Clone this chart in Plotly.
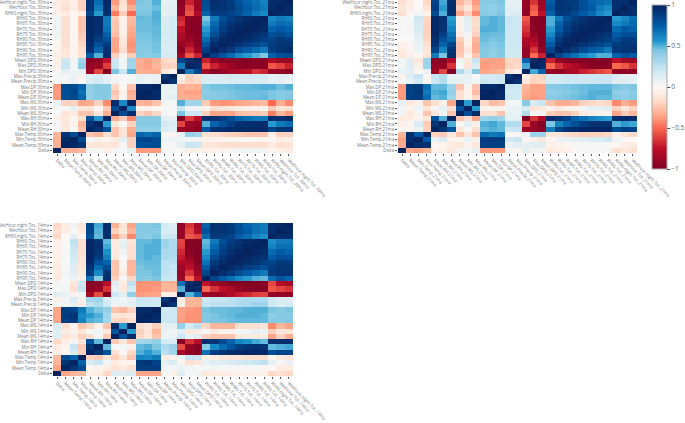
import plotly.graph_objects as go

# variable names, bottom to top on the y axis and left to right on the x axis
names = ["Delta", "Mean.Temp.{}", "Min.Temp.{}", "Max.Temp.{}", "Mean.RH.{}", "Min.RH.{}", "Max.RH.{}",
         "Mean.WS.{}", "Min.WS.{}", "Max.WS.{}", "Mean.DP.{}", "Min.DP.{}", "Max.DP.{}",
         "Mean.Precip.{}", "Max.Precip.{}", "Min.DPD.{}", "Max.DPD.{}", "Mean.DPD.{}",
         "RH95.Tot..{}", "RH90.Tot..{}", "RH85.Tot..{}", "RH80.Tot..{}", "RH75.Tot..{}", "RH70.Tot..{}",
         "RH65.Tot..{}", "RH60.Tot..{}", "RH90.night.Tot..{}", "WetHour.Tot..{}", "WetHour.night.Tot..{}"]

# upper triangles of the correlation matrices
corr_30ma = [
    [1, -.32, -.32, -.3, .04, .03, -.05, .03, .02, .08, -.38, -.38, -.38, .02, .03, .02, -.05, -.05, -.05, -.04, -.03, .03, .05, .05, .06, .06, -.03, -.06, -.08],
    [1, .97, .92, -.1, -.12, -.1, -.12, .03, -.2, .8, .8, .82, .03, .03, .1, .22, .2, -.1, -.12, -.15, -.15, -.15, -.15, -.15, -.15, -.08, -.15, -.12],
    [1, .82, .03, -.04, -.02, -.08, .1, -.2, .84, .85, .82, .08, .08, .06, .05, .05, -.03, -.03, -.03, -.02, -.02, -.02, -.02, -.02, -.02, -.07, -.05],
    [1, -.25, -.3, -.15, -.25, -.12, -.35, .72, .68, .72, -.02, -.03, .1, .38, .33, -.13, -.15, -.18, -.2, -.22, -.25, -.25, -.25, -.06, -.2, -.2],
    [1, .93, .8, -.25, -.12, -.33, .38, .38, .38, .14, .13, -.88, -.9, -.95, .75, .93, .95, .97, .97, .97, .97, .97, .85, .92, .92],
    [1, .55, -.1, -.02, -.2, .42, .42, .42, .17, .15, -.6, -.88, -.92, .5, .72, .8, .87, .93, .95, .95, .95, .55, .65, .7],
    [1, -.32, -.22, -.42, .42, .42, .42, .1, .09, -.98, -.62, -.75, .95, .93, .88, .8, .72, .68, .65, .65, .95, .95, .97],
    [1, .82, .95, -.2, -.25, -.18, .05, .02, .45, .2, .2, -.2, -.35, -.35, -.35, -.27, -.25, -.25, -.22, -.45, -.3, -.38],
    [1, .6, -.03, -.05, -.02, .03, .02, .22, .05, .05, -.03, -.15, -.12, -.1, -.07, -.05, -.05, -.03, -.22, -.12, -.15],
    [1, -.3, -.33, -.25, .04, .02, .5, .33, .35, -.22, -.38, -.4, -.38, -.35, -.33, -.3, -.28, -.5, -.33, -.42],
    [1, .98, .97, .08, .1, -.32, -.33, -.33, .42, .42, .43, .45, .46, .47, .47, .48, .45, .42, .45],
    [1, .96, .06, .08, -.33, -.36, -.36, .4, .42, .43, .45, .46, .47, .47, .47, .45, .42, .43],
    [1, .08, .1, -.33, -.3, -.32, .42, .46, .46, .47, .48, .48, .49, .5, .5, .47, .5],
    [1, .92, -.1, -.2, -.18, .16, .14, .14, .15, .15, .15, .15, .15, .1, .1, .08],
    [1, -.03, -.2, -.15, .16, .15, .15, .17, .18, .18, .18, .18, .11, .12, .1],
    [1, .65, .85, -.85, -.95, -.9, -.85, -.8, -.75, -.65, -.7, -.9, -.92, -.95],
    [1, .95, -.55, -.7, -.8, -.88, -.93, -.95, -.95, -.95, -.55, -.6, -.7],
    [1, -.7, -.9, -.95, -.95, -.96, -.97, -.95, -.95, -.8, -.88, -.88],
    [1, .88, .78, .7, .6, .55, .5, .45, .72, .8, .82],
    [1, .95, .9, .8, .75, .7, .65, .88, .92, .95],
    [1, .97, .93, .88, .85, .8, .88, .92, .93],
    [1, .98, .95, .92, .88, .85, .9, .88],
    [1, .98, .95, .93, .8, .82, .78],
    [1, .98, .97, .72, .75, .72],
    [1, .98, .65, .7, .68],
    [1, .6, .65, .62],
    [1, .97, .95],
    [1, .97],
    [1],
]

corr_21ma = [
    [1, -.33, -.35, -.3, -.03, -.05, -.1, .05, .05, .1, -.38, -.38, -.38, .02, -.03, .1, .04, .05, -.1, -.07, -.05, 0, .02, .02, .02, .02, -.15, -.1, -.15],
    [1, .95, .95, -.02, -.03, -.08, -.1, -.03, -.1, .87, .87, .87, .08, .12, .1, .12, .12, -.05, -.03, -.02, .02, .03, .04, .03, .02, -.02, -.06, -.08],
    [1, .75, .08, .15, -.03, -.03, .08, -.05, .88, .9, .88, .18, .22, -.02, -.05, -.1, -.02, .08, .08, .1, .12, .15, .15, .2, .05, 0, 0],
    [1, -.2, -.22, -.1, -.25, -.12, -.25, .7, .65, .68, -.02, -.02, .07, .35, .35, -.12, -.12, -.15, -.18, -.2, -.2, -.2, -.18, -.05, -.12, -.18],
    [1, .92, .78, -.1, .02, -.15, .48, .5, .48, .2, .22, -.88, -.9, -.95, .65, .85, .93, .95, .98, .98, .98, .98, .82, .88, .85],
    [1, .5, .02, .1, -.05, .5, .52, .48, .28, .28, -.6, -.9, -.97, .45, .62, .72, .8, .88, .93, .93, .93, .5, .55, .52],
    [1, -.25, -.15, -.35, .35, .38, .35, .1, .1, -.98, -.65, -.8, .95, .92, .85, .72, .68, .62, .58, .55, .95, .97, .95],
    [1, .8, .97, -.15, -.15, -.25, .1, .08, .3, .02, .05, -.22, -.25, -.25, -.2, -.08, -.05, -.03, -.03, -.35, -.22, -.3],
    [1, .55, -.03, -.03, -.03, .08, .08, .15, -.12, -.1, -.03, -.1, -.05, -.03, .05, .1, .1, .12, -.2, -.1, -.2],
    [1, -.18, -.28, -.25, .05, .03, .42, .15, .22, -.25, -.33, -.33, -.3, -.2, -.18, -.15, -.18, -.42, -.32, -.38],
    [1, .98, .96, .2, .18, -.35, -.38, -.36, .42, .43, .45, .47, .48, .5, .48, .48, .42, .4, .42],
    [1, .96, .18, .18, -.33, -.36, -.36, .38, .4, .42, .45, .47, .5, .5, .5, .4, .38, .42],
    [1, .2, .2, -.3, -.36, -.36, .42, .43, .45, .46, .47, .48, .48, .48, .45, .42, .45],
    [1, .93, -.1, -.2, -.18, .18, .18, .2, .2, .2, .2, .22, .22, .12, .12, .1],
    [1, -.05, -.18, -.2, .18, .18, .2, .2, .2, .2, .2, .2, .15, .1, .1],
    [1, .52, .72, -.9, -.92, -.85, -.8, -.7, -.65, -.6, -.55, -.92, -.92, -.92],
    [1, .97, -.5, -.65, -.75, -.82, -.9, -.95, -.95, -.95, -.5, -.55, -.65],
    [1, -.7, -.92, -.97, -.97, -.97, -.97, -.97, -.97, -.75, -.85, -.88],
    [1, .85, .75, .68, .6, .55, .5, .5, .72, .8, .75],
    [1, .95, .9, .82, .75, .72, .65, .9, .92, .93],
    [1, .97, .93, .88, .85, .8, .88, .92, .9],
    [1, .98, .95, .92, .88, .82, .88, .88],
    [1, .98, .95, .93, .75, .8, .8],
    [1, .98, .97, .7, .75, .72],
    [1, .98, .6, .65, .7],
    [1, .55, .6, .68],
    [1, .95, .95],
    [1, .95],
    [1],
]

corr_14ma = [
    [1, -.35, -.3, -.28, -.05, -.08, -.18, .13, .12, .15, -.35, -.35, -.35, .02, -.05, .12, .03, .05, -.1, -.08, -.08, -.07, -.05, -.05, -.05, -.05, -.18, -.15, -.18],
    [1, .92, .82, -.02, -.03, -.06, -.13, -.08, -.15, .88, .88, .88, .05, .05, .08, .05, .02, .03, .05, .03, .02, .02, .02, .02, -.02, 0, -.08, -.08],
    [1, .72, .15, .22, .05, -.08, -.03, -.03, .9, .92, .85, .1, .15, -.03, -.15, -.12, .08, .12, .12, .15, .18, .2, .22, .25, .1, .02, .07],
    [1, -.2, -.22, -.12, -.2, -.12, -.25, .62, .6, .65, -.08, -.05, .05, .22, .2, -.05, -.08, -.1, -.12, -.12, -.15, -.15, -.15, -.02, -.08, -.12],
    [1, .92, .78, -.15, .02, -.18, .5, .55, .5, .25, .33, -.85, -.93, -.95, .68, .88, .93, .97, .98, .98, .98, .98, .8, .85, .85],
    [1, .48, .02, .05, -.05, .48, .5, .45, .3, .35, -.58, -.9, -.97, .42, .6, .7, .78, .88, .92, .95, .92, .48, .5, .52],
    [1, -.22, -.1, -.25, .33, .35, .38, .18, .15, -.97, -.65, -.78, .95, .92, .82, .72, .62, .58, .52, .48, .95, .95, .95],
    [1, .78, .97, -.18, -.1, -.25, .05, .08, .2, .08, .12, -.2, -.25, -.25, -.25, -.1, -.08, -.08, -.08, -.35, -.2, -.32],
    [1, .55, -.2, -.12, -.3, .08, .05, .12, -.1, -.08, .03, -.08, -.03, -.03, .03, .05, .1, .08, -.2, -.1, -.12],
    [1, -.15, -.1, -.2, .1, .1, .38, .18, .25, -.18, -.3, -.3, -.3, -.15, -.15, -.15, -.12, -.42, -.3, -.35],
    [1, .98, .96, .2, .22, -.38, -.4, -.4, .43, .45, .45, .47, .48, .48, .48, .48, .42, .42, .43],
    [1, .96, .2, .2, -.36, -.4, -.4, .42, .45, .47, .48, .5, .5, .5, .48, .4, .42, .42],
    [1, .18, .2, -.36, -.38, -.4, .45, .47, .47, .48, .48, .5, .5, .5, .45, .42, .45],
    [1, .92, -.05, -.3, -.3, .22, .25, .25, .25, .3, .3, .35, .35, .2, .15, .18],
    [1, -.08, -.3, -.32, .2, .22, .22, .25, .28, .3, .3, .3, .2, .15, .12],
    [1, .5, .68, -.88, -.9, -.87, -.8, -.72, -.68, -.62, -.6, -.9, -.9, -.92],
    [1, .97, -.5, -.65, -.75, -.82, -.9, -.95, -.97, -.97, -.55, -.6, -.65],
    [1, -.75, -.88, -.92, -.97, -.97, -.98, -.97, -.97, -.6, -.8, -.85],
    [1, .85, .75, .68, .6, .55, .5, .48, .7, .78, .72],
    [1, .95, .9, .82, .75, .7, .65, .9, .92, .93],
    [1, .97, .93, .88, .85, .8, .88, .92, .92],
    [1, .98, .95, .92, .88, .85, .9, .88],
    [1, .98, .95, .93, .75, .8, .8],
    [1, .98, .97, .7, .75, .72],
    [1, .98, .62, .68, .68],
    [1, .58, .65, .65],
    [1, .95, .95],
    [1, .97],
    [1],
]

rdbu = [[0, "rgb(125,0,35)"], [.125, "rgb(190,15,40)"], [.25, "rgb(250,105,80)"], [.33, "rgb(255,170,140)"],
        [.42, "rgb(255,222,205)"], [.5, "rgb(252,248,246)"], [.6, "rgb(205,232,243)"], [.725, "rgb(125,198,226)"],
        [.78, "rgb(30,150,205)"], [.875, "rgb(0,90,165)"], [1, "rgb(5,35,95)"]]

W, H = 685, 423


def full_matrix(tri):
    n = len(tri)
    z = [[0] * n for _ in range(n)]
    for i, row in enumerate(tri):
        for k, v in enumerate(row):
            z[i][i + k] = v
            z[i + k][i] = v
    return z


panels = [
    (corr_30ma, "30ma", 53, 293, 0, 153),
    (corr_21ma, "21ma", 398, 637, 0, 153),
    (corr_14ma, "14ma", 53, 293, 223, 376),
]

fig = go.Figure()
layout_axes = {}
for i, (tri, suffix, x0, x1, y0, y1) in enumerate(panels):
    labels = [s.format(suffix) for s in names]
    idx = "" if i == 0 else str(i + 1)
    fig.add_trace(go.Heatmap(z=full_matrix(tri), x=labels, y=labels, coloraxis="coloraxis",
                             xaxis="x" + idx, yaxis="y" + idx))
    tick = dict(tickfont=dict(size=4.4, color="#777"), ticks="outside", ticklen=2, tickwidth=1,
                tickcolor="#555", dtick=1, showgrid=False, zeroline=False, automargin=False)
    layout_axes["xaxis" + idx] = dict(domain=[x0 / W, x1 / W], anchor="y" + idx, tickangle=45, **tick)
    layout_axes["yaxis" + idx] = dict(domain=[1 - y1 / H, 1 - y0 / H], anchor="x" + idx, **tick)

fig.update_layout(
    width=W, height=H, margin=dict(l=0, r=0, t=0, b=0),
    paper_bgcolor="white", plot_bgcolor="white", showlegend=False,
    coloraxis=dict(
        colorscale=rdbu, cmin=-1, cmax=1,
        colorbar=dict(x=652 / W, xanchor="left", xpad=0, y=1 - 5 / H, yanchor="top", ypad=0,
                      len=164 / H, thickness=15, outlinecolor="#aaa", outlinewidth=1,
                      tickmode="linear", tick0=-1, dtick=0.5, ticks="outside", ticklen=3,
                      tickcolor="#444", tickfont=dict(size=6.5, color="#666")),
    ),
    **layout_axes,
)
fig.write_html("out.html", config={"displayModeBar": False},
               post_script="document.body.style.margin='0';")
